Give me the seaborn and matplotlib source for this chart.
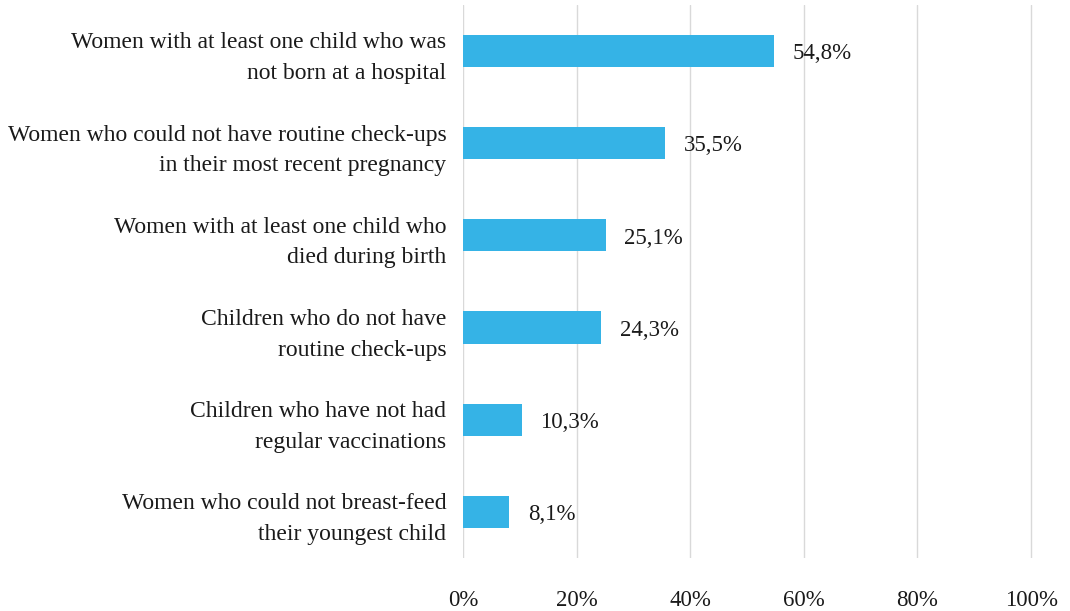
import matplotlib
matplotlib.use("Agg")
import matplotlib.pyplot as plt
import seaborn as sns
import pandas as pd

categories = [
    "Women with at least one child who was\nnot born at a hospital",
    "Women who could not have routine check-ups\nin their most recent pregnancy",
    "Women with at least one child who\ndied during birth",
    "Children who do not have\nroutine check-ups",
    "Children who have not had\nregular vaccinations",
    "Women who could not breast-feed\ntheir youngest child",
]
values = [54.8, 35.5, 25.1, 24.3, 10.3, 8.1]
value_labels = ["54,8%", "35,5%", "25,1%", "24,3%", "10,3%", "8,1%"]
x_ticks = [0, 20, 40, 60, 80, 100]

df = pd.DataFrame({"category": categories, "value": values})

sns.set_style("white")
plt.rcParams["font.family"] = ["Liberation Serif", "DejaVu Serif"]

fig = plt.figure(figsize=(10.7, 6.11), dpi=100)
ax = fig.add_axes([0.4327, 0.0867, 0.5325, 0.9053])

sns.barplot(data=df, y="category", x="value", orient="h", color="#35B3E6",
            saturation=1, width=0.35, linewidth=0, ax=ax)

for i, (v, lab) in enumerate(zip(values, value_labels)):
    ax.text(v + 3.3, i + 0.03, lab, va="center", ha="left", fontsize=16.5, color="#1a1a1a")

ax.set_xlim(0, 100.3)
ax.set_ylim(5.5, -0.5)
ax.set_xticks(x_ticks)
ax.set_xticklabels([f"{t}%" for t in x_ticks], fontsize=16.5, color="#1a1a1a")
ax.tick_params(axis="x", length=0, pad=23)
ax.tick_params(axis="y", length=0, pad=12)
for lbl in ax.get_yticklabels():
    lbl.set_fontsize(17)
    lbl.set_color("#1a1a1a")
    lbl.set_multialignment("right")
    lbl.set_linespacing(1.6)
ax.set_xlabel("")
ax.set_ylabel("")
ax.grid(axis="x", color="#d9d9d9", linewidth=1.0)
ax.set_axisbelow(True)
for s in ax.spines.values():
    s.set_visible(False)

fig.savefig("out.png", dpi=100)
